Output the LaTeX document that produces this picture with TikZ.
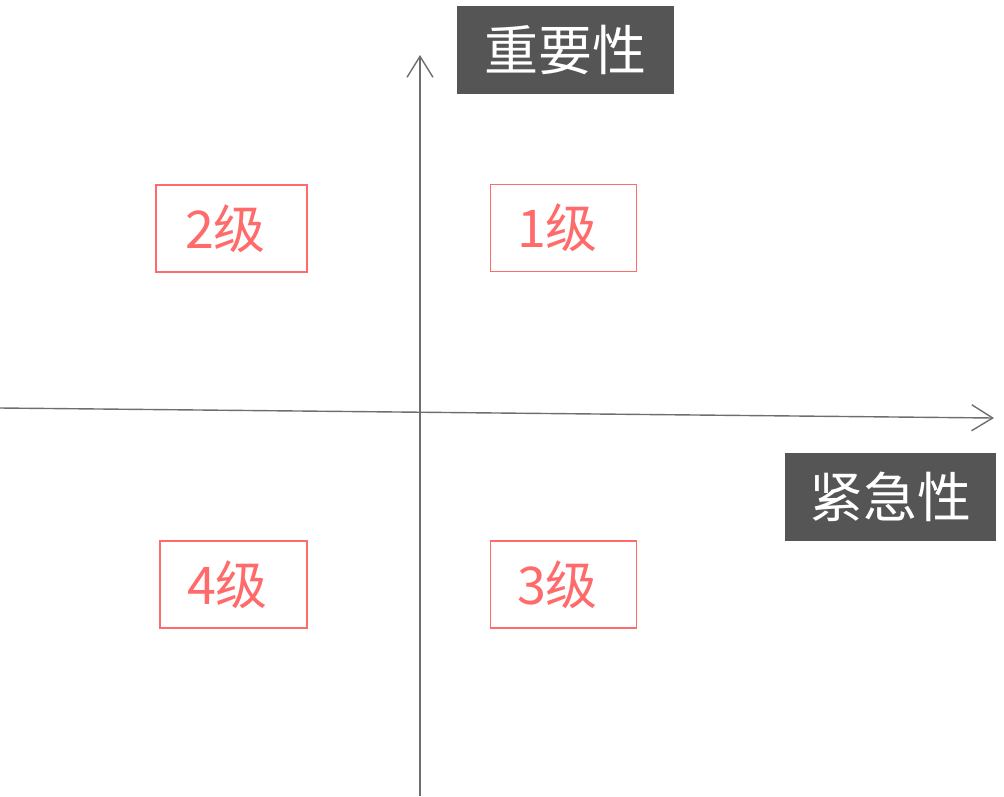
\documentclass[tikz,border=0pt]{standalone}
\usepackage{fontspec}
\newfontfamily\cjk{Noto Sans CJK SC}
\usetikzlibrary{arrows.meta}

\definecolor{axisgray}{HTML}{6E6E6E}
\definecolor{titlegray}{HTML}{555555}
\definecolor{levelred}{HTML}{FF6B6B}

\tikzset{
  axisline/.style={draw=axisgray, line width=1.4pt,
    -{Straight Barb[length=21pt,width=26pt,line width=1.4pt]}},
  axistitle/.style={fill=titlegray, text=white, inner sep=0pt,
    font=\cjk\fontsize{54}{54}\selectfont, minimum height=88pt},
  levelbox/.style={draw=levelred, line width=1.8pt, text=levelred, inner sep=0pt,
    font=\cjk\fontsize{52}{52}\selectfont, minimum width=146pt, minimum height=87pt,
    execute at end node=\hspace{12pt}},
}

\begin{document}
\begin{tikzpicture}[x=1pt,y=-1pt]
\useasboundingbox (0,0) rectangle (1004,796);

% axes
\coordinate (xstart) at (0,408);
\coordinate (xend) at (994,418);
\coordinate (ystart) at (420,796);
\coordinate (yend) at (420,55);
\draw[axisline] (xstart) -- (xend);
\draw[axisline] (ystart) -- (yend);

% axis titles
\node[axistitle, minimum width=217pt] (importance) at (565.5,50) {重要性};
\node[axistitle, minimum width=211pt] (urgency) at (890.5,497) {紧急性};

% levels
\node[levelbox] (level1) at (563.5,228) {1级};
\node[levelbox, minimum width=151pt] (level2) at (231.5,228.5) {2级};
\node[levelbox] (level3) at (563.5,584.5) {3级};
\node[levelbox, minimum width=147pt] (level4) at (233.5,584.5) {4级};
\end{tikzpicture}
\end{document}
